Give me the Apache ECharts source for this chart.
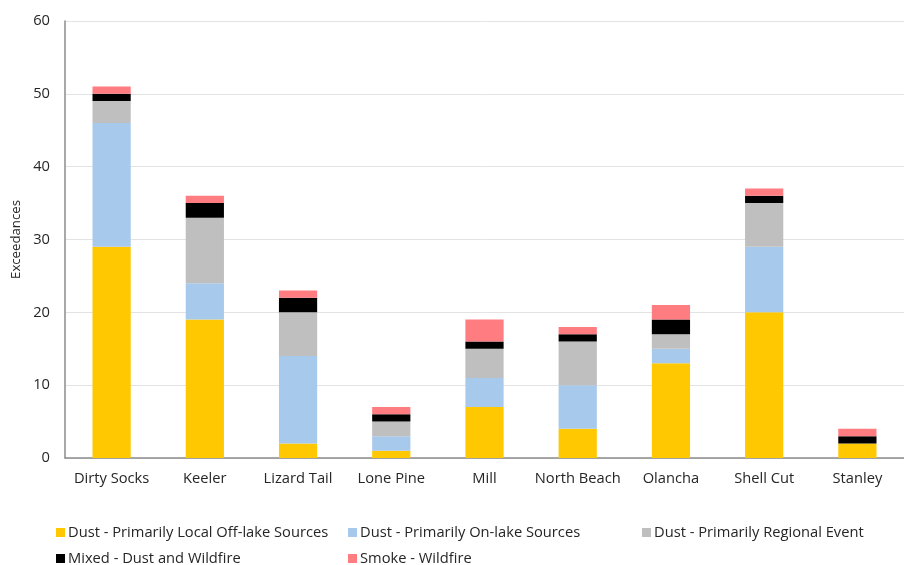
<!DOCTYPE html>
<html>
<head>
<meta charset="utf-8">
<script src="https://cdn.jsdelivr.net/npm/echarts@6/dist/echarts.min.js"></script>
<style>
  html, body { margin: 0; padding: 0; background: #fff; }
  #chart { width: 904px; height: 565px; }
</style>
</head>
<body>
<div id="chart"></div>
<script>
// Exceedance counts per monitoring site, split by attributed source
const sites = ['Dirty Socks', 'Keeler', 'Lizard Tail', 'Lone Pine', 'Mill', 'North Beach', 'Olancha', 'Shell Cut', 'Stanley'];
const localOffLake = [29, 19, 2, 1, 7, 4, 13, 20, 2];
const onLake       = [17, 5, 12, 2, 4, 6, 2, 9, 0];
const regional     = [3, 9, 6, 2, 4, 6, 2, 6, 0];
const mixed        = [1, 2, 2, 1, 1, 1, 2, 1, 1];
const smoke        = [1, 1, 1, 1, 3, 1, 2, 1, 1];
const yTicks = [0, 10, 20, 30, 40, 50, 60];

const seriesDefs = [
  { name: 'Dust - Primarily Local Off-lake Sources', data: localOffLake, color: '#FFC800' },
  { name: 'Dust - Primarily On-lake Sources', data: onLake, color: '#A6C9EC' },
  { name: 'Dust - Primarily Regional Event', data: regional, color: '#BFBFBF' },
  { name: 'Mixed - Dust and Wildfire', data: mixed, color: '#000000' },
  { name: 'Smoke - Wildfire', data: smoke, color: '#FF7C80' }
];

const font = "'Open Sans', 'Liberation Sans', sans-serif";
// two-row legend laid out in three columns
const legendPos = [
  { left: 51, top: 520 },
  { left: 343, top: 520 },
  { left: 637, top: 520 },
  { left: 51, top: 546 },
  { left: 343, top: 546 }
];

const chart = echarts.init(document.getElementById('chart'), null, { renderer: 'canvas' });
chart.setOption({
  animation: false,
  grid: { left: 65, right: 0, top: 21, bottom: 107 },
  xAxis: {
    type: 'category',
    data: sites,
    axisLine: { lineStyle: { color: '#8c8c8c', width: 1.5 } },
    axisTick: { show: false },
    axisLabel: { color: '#262626', fontSize: 14.7, fontFamily: font, margin: 13, interval: 0 }
  },
  yAxis: {
    type: 'value',
    min: yTicks[0],
    max: yTicks[yTicks.length - 1],
    interval: 10,
    name: 'Exceedances',
    nameLocation: 'middle',
    nameGap: 41,
    nameRotate: 90,
    nameTextStyle: { color: '#262626', fontSize: 13.2, fontFamily: font },
    axisLine: { show: true, lineStyle: { color: '#8c8c8c', width: 1.5 } },
    axisTick: { show: false },
    axisLabel: { color: '#262626', fontSize: 14.7, fontFamily: font, margin: 15 },
    splitLine: { lineStyle: { color: '#e3e3e3', width: 1 } }
  },
  legend: seriesDefs.map((s, i) => ({
    data: [s.name],
    left: legendPos[i].left,
    top: legendPos[i].top,
    icon: 'rect',
    itemWidth: 9,
    itemHeight: 9,
    itemGap: 4,
    textStyle: { color: '#262626', fontSize: 14.7, fontFamily: font, padding: [0, 0, 0, -2] }
  })),
  series: seriesDefs.map(s => ({
    name: s.name,
    type: 'bar',
    stack: 'total',
    data: s.data,
    barWidth: '41%',
    itemStyle: { color: s.color },
    emphasis: { disabled: true }
  }))
});
</script>
</body>
</html>
